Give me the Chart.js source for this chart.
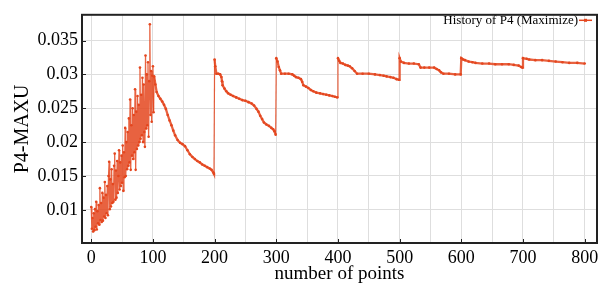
<!DOCTYPE html>
<html>
<head>
<meta charset="utf-8">
<script src="https://cdn.jsdelivr.net/npm/chart.js@4/dist/chart.umd.min.js"></script>
<style>
  html, body { margin: 0; padding: 0; background: #fff; }
  canvas { display: block; }
</style>
</head>
<body>
<canvas id="history" width="614" height="289"></canvas>
<script>
// first 100 evaluations, one value per point (x = 0..101)
const noiseY = [
  0.0104, 0.0072, 0.0088, 0.0068, 0.0095, 0.0070, 0.0101, 0.0075, 0.0112, 0.0071,
  0.0098, 0.0080, 0.0107, 0.0078, 0.0132, 0.0085, 0.0110, 0.0082, 0.0125, 0.0084,
  0.0118, 0.0090, 0.0141, 0.0088, 0.0122, 0.0095, 0.0135, 0.0092, 0.0150, 0.0171,
  0.0101, 0.0145, 0.0105, 0.0160, 0.0110, 0.0138, 0.0112, 0.0165, 0.0183, 0.0115,
  0.0158, 0.0118, 0.0172, 0.0125, 0.0150, 0.0188, 0.0130, 0.0170, 0.0135, 0.0180,
  0.0140, 0.0195, 0.0128, 0.0185, 0.0148, 0.0221, 0.0150, 0.0200, 0.0160, 0.0215,
  0.0165, 0.0235, 0.0170, 0.0263, 0.0159, 0.0225, 0.0180, 0.0250, 0.0175, 0.0240,
  0.0185, 0.0278, 0.0159, 0.0245, 0.0190, 0.0268, 0.0195, 0.0255, 0.0200, 0.0310,
  0.0205, 0.0270, 0.0210, 0.0295, 0.0200, 0.0285, 0.0215, 0.0193, 0.0328, 0.0220,
  0.0300, 0.0225, 0.0318, 0.0208, 0.0290, 0.0374, 0.0240, 0.0305, 0.0230, 0.0298,
  0.0312, 0.0244
];

const tailX = [
  102, 104, 106, 109, 112, 115, 118, 121, 124, 127, 130, 133, 136, 140, 144, 148, 152, 156, 160, 164, 168, 172, 176, 180, 184, 188, 192, 195, 198, 199,
  200, 201, 203, 206, 209, 211, 212, 213, 216, 219, 222, 226, 230, 235, 240, 245, 250, 255, 260, 264, 268, 271, 274, 277, 280, 284, 288, 292, 295, 297, 299,
  300, 302, 304, 306, 308, 314, 320, 326, 329, 332, 336, 340, 342, 344, 348, 352, 356, 360, 365, 371, 376, 381, 386, 391, 395, 399,
  400, 402, 404, 408, 412, 416, 419, 423, 427, 431, 440, 450, 460, 468, 474, 479, 485, 490, 495, 499,
  500, 502, 507, 515, 523, 531, 534, 540, 548, 556, 560, 564, 567, 571, 580, 590, 599,
  600, 603, 606, 612, 618, 623, 634, 645, 655, 666, 677, 685, 693, 697, 699,
  700, 706, 710, 720, 731, 742, 753, 764, 775, 788, 800
];
const tailY = [
  0.0297, 0.0285, 0.0274, 0.0268, 0.0264, 0.0260, 0.0255, 0.0249, 0.0240, 0.0232, 0.0225, 0.0217, 0.0210, 0.0203, 0.0199, 0.0197, 0.0194, 0.0188, 0.0182, 0.0178, 0.0175, 0.0172, 0.0170, 0.0167, 0.0165, 0.0163, 0.0161, 0.0159, 0.0155, 0.0153,
  0.0322, 0.0312, 0.0301, 0.0301, 0.0300, 0.0296, 0.0290, 0.0284, 0.0279, 0.0275, 0.0272, 0.0270, 0.0268, 0.0266, 0.0264, 0.0262, 0.0261, 0.0259, 0.0257, 0.0254, 0.0249, 0.0245, 0.0239, 0.0234, 0.0229, 0.0226, 0.0224, 0.0221, 0.0219, 0.0216, 0.0211,
  0.0324, 0.0319, 0.0311, 0.0306, 0.0301, 0.0301, 0.0301, 0.0300, 0.0298, 0.0296, 0.0295, 0.0293, 0.0289, 0.0284, 0.0282, 0.0280, 0.0277, 0.0275, 0.0273, 0.0272, 0.0271, 0.0270, 0.0269, 0.0268, 0.0267, 0.0266,
  0.0324, 0.0320, 0.0317, 0.0316, 0.0314, 0.0313, 0.0312, 0.0309, 0.0305, 0.0301, 0.0301, 0.0301, 0.0300, 0.0299, 0.0298, 0.0297, 0.0296, 0.0295, 0.0293, 0.0292,
  0.0324, 0.0319, 0.0317, 0.0316, 0.0316, 0.0315, 0.0310, 0.0310, 0.0310, 0.0310, 0.0308, 0.0306, 0.0303, 0.0301, 0.0301, 0.0300, 0.0300,
  0.0324, 0.0322, 0.0321, 0.0319, 0.0318, 0.0317, 0.0316, 0.0316, 0.0315, 0.0315, 0.0315, 0.0314, 0.0313, 0.0311, 0.0310,
  0.0324, 0.0323, 0.0322, 0.0321, 0.0321, 0.0320, 0.0319, 0.0318, 0.0317, 0.0317, 0.0316
];

const seriesLabel = "History of P4 (Maximize)";
const xTitle = "number of points";
const yTitle = "P4-MAXU";

const LINE = "#e4461e";
const SERIF = "'Liberation Serif', 'DejaVu Serif', serif";

const points = noiseY
  .map((y, i) => ({ x: i, y: y }))
  .concat(tailX.map((x, i) => ({ x: x, y: tailY[i] })));

// frame, inward tick marks and the legend inside the plot
const decorations = {
  id: "decorations",
  afterDraw(chart) {
    const { ctx, chartArea: a, scales } = chart;
    ctx.save();
    ctx.strokeStyle = "#222";
    ctx.lineWidth = 1;
    scales.y.ticks.forEach((t) => {
      const py = Math.round(scales.y.getPixelForValue(t.value)) + 0.5;
      ctx.beginPath();
      ctx.moveTo(a.left, py);
      ctx.lineTo(a.left + 4, py);
      ctx.stroke();
    });
    scales.x.ticks.forEach((t) => {
      if (t.value % 100 !== 0) return;
      const px = Math.round(scales.x.getPixelForValue(t.value)) + 0.5;
      ctx.beginPath();
      ctx.moveTo(px, a.bottom);
      ctx.lineTo(px, a.bottom - 4);
      ctx.stroke();
    });
    ctx.lineWidth = 2;
    ctx.strokeRect(a.left, a.top, a.right - a.left, a.bottom - a.top);

    // legend
    ctx.font = "13px " + SERIF;
    ctx.fillStyle = "#000";
    ctx.textAlign = "right";
    ctx.textBaseline = "middle";
    ctx.fillText(seriesLabel, a.right - 19, a.top + 6);
    ctx.strokeStyle = LINE;
    ctx.lineWidth = 1.5;
    ctx.beginPath();
    ctx.moveTo(a.right - 18, a.top + 5.5);
    ctx.lineTo(a.right - 5, a.top + 5.5);
    ctx.stroke();
    ctx.fillStyle = LINE;
    ctx.fillRect(a.right - 13, a.top + 4, 3, 3);
    ctx.restore();
  },
};

new Chart(document.getElementById("history"), {
  type: "line",
  data: {
    datasets: [
      {
        label: seriesLabel,
        data: points,
        borderColor: "rgba(228, 70, 30, 0.85)",
        backgroundColor: LINE,
        borderWidth: 1.3,
        pointRadius: 1.3,
        pointBorderWidth: 0,
        pointBackgroundColor: LINE,
        tension: 0,
        segment: {
          borderWidth: (c) => {
            if (c.p0.parsed.x < 101) return 1.3;
            if (c.p1.parsed.y - c.p0.parsed.y > 0.004) return 1.2;
            return 2.3;
          },
        },
      },
    ],
  },
  options: {
    responsive: false,
    animation: false,
    devicePixelRatio: 1,
    layout: { padding: { top: 10, right: 17, left: 0, bottom: 0 } },
    plugins: {
      legend: { display: false },
      tooltip: { enabled: false },
    },
    scales: {
      x: {
        type: "linear",
        min: -15,
        max: 820,
        afterFit: (scale) => { scale.height = 46; },
        grid: { color: "#dedede", lineWidth: 1, drawTicks: false },
        border: { display: false },
        ticks: {
          stepSize: 50,
          includeBounds: false,
          autoSkip: false,
          maxRotation: 0,
          padding: 4,
          color: "#000",
          font: { family: SERIF, size: 18 },
          callback: (v) => (v % 100 === 0 ? String(v) : ""),
        },
        title: {
          display: true,
          text: xTitle,
          color: "#000",
          font: { family: SERIF, size: 19 },
          padding: { top: 0, bottom: 4 },
        },
      },
      y: {
        min: 0.0051,
        max: 0.0388,
        afterFit: (scale) => { scale.width = 82; },
        grid: { color: "#dedede", lineWidth: 1, drawTicks: false },
        border: { display: false },
        ticks: {
          stepSize: 0.005,
          includeBounds: false,
          padding: 4,
          color: "#000",
          font: { family: SERIF, size: 18 },
          callback: (v) => String(+v.toFixed(3)),
        },
        title: {
          display: true,
          text: yTitle,
          color: "#000",
          font: { family: SERIF, size: 20 },
          padding: { top: 11, bottom: 0 },
        },
      },
    },
  },
  plugins: [decorations],
});
</script>
</body>
</html>
